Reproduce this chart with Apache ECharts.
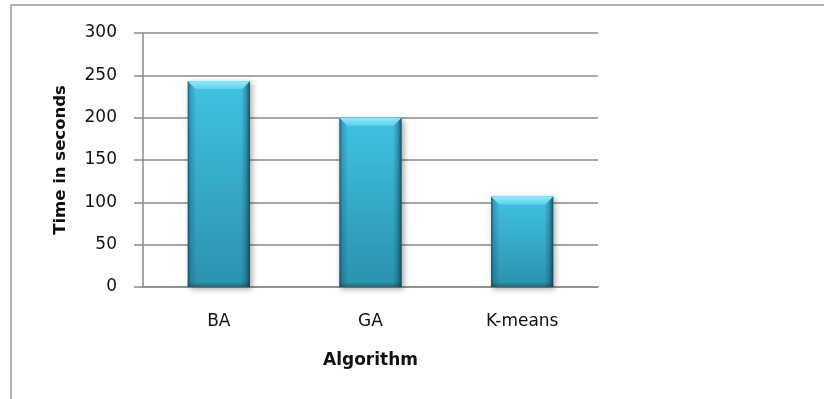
<!DOCTYPE html>
<html>
<head>
<meta charset="utf-8">
<script src="https://cdn.jsdelivr.net/npm/echarts@6/dist/echarts.min.js"></script>
<style>
  html, body { margin: 0; padding: 0; background: #fff; }
  #chart { width: 824px; height: 399px; }
</style>
</head>
<body>
<div id="chart"></div>
<script>
// Run time of each clustering algorithm
const categories = ['BA', 'GA', 'K-means'];
const timeSeconds = [243, 200, 107];
const yTicks = [0, 50, 100, 150, 200, 250, 300];

const FONT = 'DejaVu Sans';
const TEXT = '#111111';
const GRID = '#8a8a8a';

// Bevelled column: body with vertical gradient, darker side edges, light top bevel
function renderColumn(params, api) {
  const cat = api.value(0);
  const val = api.value(1);
  const top = api.coord([cat, val]);
  const base = api.coord([cat, 0]);
  const band = api.size([1, 0])[0];
  const w = band * 0.41;
  const x0 = top[0] - w / 2;
  const x1 = x0 + w;
  const y0 = top[1];
  const y1 = base[1];
  const h = y1 - y0;
  const b = 8;
  return {
    type: 'group',
    children: [
      {
        type: 'rect',
        shape: { x: x0, y: y0, width: w, height: h },
        style: {
          fill: new echarts.graphic.LinearGradient(0, 0, 0, 1, [
            { offset: 0, color: '#41c2e3' },
            { offset: 1, color: '#2a92ae' }
          ]),
          shadowBlur: 6,
          shadowOffsetX: 2,
          shadowOffsetY: 2,
          shadowColor: 'rgba(0,0,0,0.35)'
        }
      },
      {
        type: 'rect',
        shape: { x: x0, y: y0, width: w, height: h },
        style: {
          fill: new echarts.graphic.LinearGradient(0, 0, 1, 0, [
            { offset: 0, color: 'rgba(8,55,72,0.75)' },
            { offset: 0.04, color: 'rgba(8,55,72,0.25)' },
            { offset: 0.14, color: 'rgba(8,55,72,0)' },
            { offset: 0.86, color: 'rgba(8,55,72,0)' },
            { offset: 0.94, color: 'rgba(8,55,72,0.3)' },
            { offset: 1, color: 'rgba(8,50,68,0.8)' }
          ])
        }
      },
      {
        type: 'rect',
        shape: { x: x0, y: y1 - 5, width: w, height: 5 },
        style: {
          fill: new echarts.graphic.LinearGradient(0, 0, 0, 1, [
            { offset: 0, color: 'rgba(8,55,72,0)' },
            { offset: 1, color: 'rgba(8,55,72,0.45)' }
          ])
        }
      },
      {
        type: 'polygon',
        shape: { points: [[x0, y0], [x1, y0], [x1 - b, y0 + b], [x0 + b, y0 + b]] },
        style: {
          fill: new echarts.graphic.LinearGradient(0, 0, 0, 1, [
            { offset: 0, color: '#96e9fa' },
            { offset: 1, color: '#5ccfeb' }
          ])
        }
      }
    ]
  };
}

const chart = echarts.init(document.getElementById('chart'), null, { renderer: 'canvas' });
chart.setOption({
  animation: false,
  backgroundColor: '#ffffff',
  graphic: [{
    type: 'rect',
    shape: { x: 11, y: 5, width: 900, height: 500 },
    style: { fill: 'none', stroke: '#9a9a9a', lineWidth: 1.5 },
    z: 0
  }],
  grid: { left: 143, right: 226, top: 33, bottom: 112 },
  xAxis: {
    type: 'category',
    data: categories,
    name: 'Algorithm',
    nameLocation: 'middle',
    nameGap: 65,
    nameTextStyle: { fontFamily: FONT, fontWeight: 'bold', fontSize: 17, color: TEXT },
    axisLine: { lineStyle: { color: GRID, width: 1.5 } },
    axisTick: { show: false },
    axisLabel: { margin: 26, fontFamily: FONT, fontSize: 17, color: TEXT }
  },
  yAxis: {
    type: 'value',
    min: yTicks[0],
    max: yTicks[yTicks.length - 1],
    interval: yTicks[1] - yTicks[0],
    name: 'Time in seconds',
    nameLocation: 'middle',
    nameRotate: 90,
    nameGap: 74,
    nameTextStyle: { fontFamily: FONT, fontWeight: 'bold', fontSize: 16.5, color: TEXT },
    axisLine: { show: true, lineStyle: { color: GRID, width: 1.5 } },
    axisTick: { show: true, length: 9, lineStyle: { color: GRID, width: 1.5 } },
    splitLine: { lineStyle: { color: GRID, width: 1.5 } },
    axisLabel: { margin: 26, fontFamily: FONT, fontSize: 17, color: TEXT }
  },
  series: [{
    type: 'custom',
    renderItem: renderColumn,
    data: timeSeconds.map((v, i) => [i, v]),
    encode: { x: 0, y: 1 },
    z: 5
  }]
});
</script>
</body>
</html>
